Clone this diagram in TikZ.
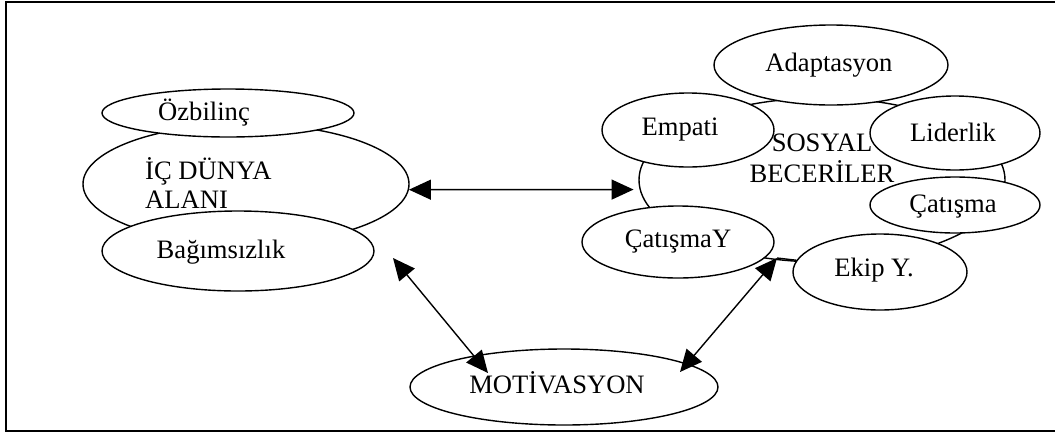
\documentclass[tikz,border=0pt]{standalone}
\usepackage{fontspec}
\setmainfont{Liberation Serif}
\usetikzlibrary{shapes.geometric,arrows.meta}
\begin{document}
\begin{tikzpicture}[x=1pt,y=-1pt,
  ell/.style={draw,ellipse,fill=white,line width=1.4pt,inner sep=0pt},
  lbl/.style={font=\fontsize{26.6}{29}\selectfont,inner sep=0pt},
  link/.style={line width=1.4pt},
  dbl/.style={link,{Triangle[length=22pt,width=20pt]}-{Triangle[length=22pt,width=20pt]}}]
\useasboundingbox (0,0) rectangle (1055,432);
\draw[line width=2pt] (1058,1.5) -- (6,1.5) -- (6,430.5) -- (1058,430.5);

% left group
\node[ell,minimum width=326pt,minimum height=120pt] (ic) at (246,184) {};
\node[ell,minimum width=252pt,minimum height=48pt] (ozb) at (228,113) {};
\node[ell,minimum width=272pt,minimum height=80pt] (bag) at (238,251) {};
\node[lbl,anchor=west,align=left] (ict) at (145,183) {İÇ DÜNYA\\ALANI};
\node[lbl] (ozbt) at (204,113) {Özbilinç};
\node[lbl] (bagt) at (221,252) {Bağımsızlık};

% right group
\node[ell,minimum width=366pt,minimum height=164pt] (sb) at (822,180) {};
\node[ell,minimum width=234pt,minimum height=80pt] (ada) at (831,65) {};
\node[ell,minimum width=172pt,minimum height=74pt] (emp) at (688,130) {};
\node[ell,minimum width=170pt,minimum height=74pt] (lid) at (955,133) {};
\node[ell,minimum width=170pt,minimum height=56pt] (cat) at (955,205) {};
\node[ell,minimum width=192pt,minimum height=72pt] (caty) at (678,242) {};
\node[ell,minimum width=174pt,minimum height=76pt] (ekip) at (880,272) {};
\node[lbl,align=center,font=\fontsize{26.6}{31}\selectfont] (sbt) at (822,158) {SOSYAL\\BECERİLER};
\node[lbl] (adat) at (829,65) {Adaptasyon};
\node[lbl] (empt) at (680,130) {Empati};
\node[lbl] (lidt) at (953,132) {Liderlik};
\node[lbl] (catt) at (953,207) {Çatışma};
\node[lbl] (catyt) at (678,242) {ÇatışmaY};
\node[lbl] (ekipt) at (874,270) {Ekip Y.};

% bottom
\node[ell,minimum width=308pt,minimum height=76pt] (mot) at (564,387) {};
\node[lbl] (mott) at (557,383) {MOTİVASYON};

% connectors
\draw[dbl] (ic.-2) -- ([xshift=-6pt]sb.183);
\coordinate (l1) at (393,258);
\coordinate (l2) at (488,373);
\draw[dbl] (l1) -- (l2);
\coordinate (r1) at (777,258);
\coordinate (r2) at (680,372);
\draw[dbl] (r2) -- (r1);
\draw[link] (ekip.172) -- (r1);
\end{tikzpicture}
\end{document}
